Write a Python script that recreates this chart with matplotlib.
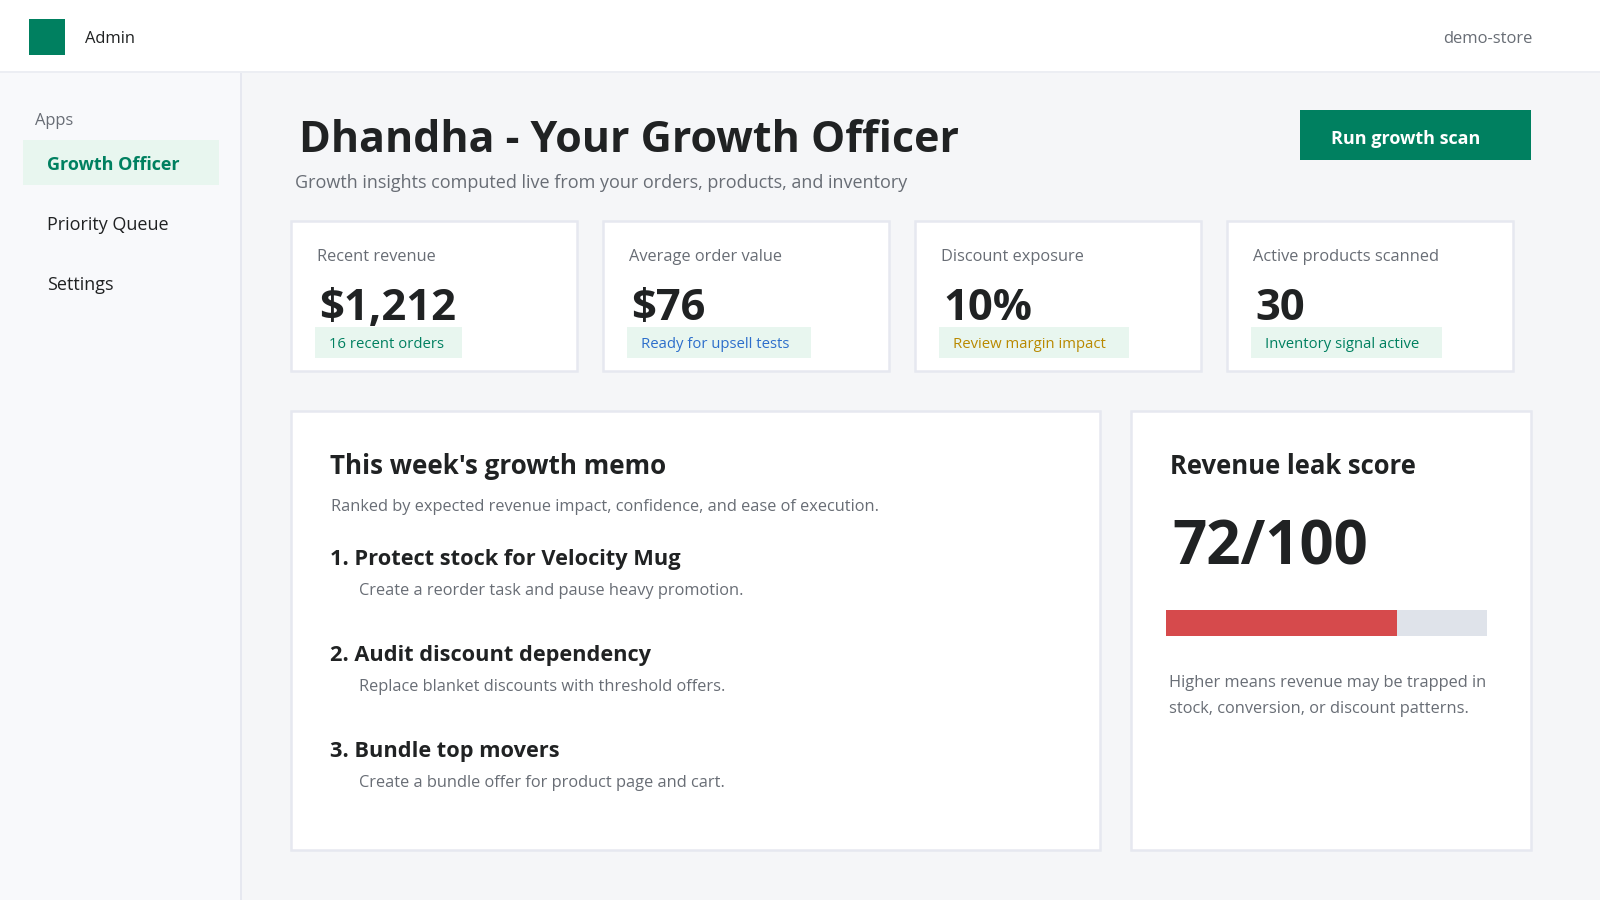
import matplotlib
matplotlib.use("Agg")
import matplotlib.pyplot as plt
from matplotlib.patches import Rectangle

plt.rcParams['font.family'] = ['Open Sans', 'DejaVu Sans']

# --- data ---
nav_items = ["Growth Officer", "Priority Queue", "Settings"]
kpi_labels = ["Recent revenue", "Average order value", "Discount exposure", "Active products scanned"]
kpi_values = ["$1,212", "$76", "10%", "30"]
kpi_notes = ["16 recent orders", "Ready for upsell tests", "Review margin impact", "Inventory signal active"]
kpi_note_colors = ["#008060", "#2c6ecb", "#b98900", "#008060"]
memo_titles = ["1. Protect stock for Velocity Mug", "2. Audit discount dependency", "3. Bundle top movers"]
memo_texts = ["Create a reorder task and pause heavy promotion.",
              "Replace blanket discounts with threshold offers.",
              "Create a bundle offer for product page and cart."]
leak_score = 72
leak_max = 100

GREEN = "#008060"
INK = "#202223"
GREY = "#686d75"
BORDER = "#e6e8f0"
MINT = "#e8f6ef"


def px(size):
    return size * 0.72


def box(ax, x0, y0, x1, y1, face, edge=None, lw=0, z=1):
    ax.add_patch(Rectangle((x0, y0), x1 - x0, y1 - y0, facecolor=face,
                           edgecolor=edge if edge else "none", linewidth=lw, zorder=z))


def label(ax, x, y, s, size, color=INK, weight="normal", ha="left"):
    ax.text(x, y, s, fontsize=px(size), color=color, fontweight=weight, ha=ha, va="center", zorder=5)


fig = plt.figure(figsize=(16, 9), dpi=100, facecolor="#f5f6f8")
ax = fig.add_axes([0, 0, 1, 1])
ax.set_xlim(0, 1600)
ax.set_ylim(900, 0)
ax.axis("off")

# sidebar + header
box(ax, 0, 72, 240, 900, "#f8f9fb")
box(ax, 240, 72, 242, 900, BORDER)
box(ax, 0, 0, 1600, 71, "white")
box(ax, 0, 71, 1600, 73, "#eceef3")
box(ax, 28.5, 18.5, 64.5, 54.5, GREEN)
label(ax, 85, 39, "Admin", 16.5)
label(ax, 1532, 39, "demo-store", 16.5, GREY, ha="right")

label(ax, 35, 121, "Apps", 16.5, GREY)
box(ax, 22.5, 140, 218.5, 184.5, MINT)
for i, name in enumerate(nav_items):
    active = i == 0
    label(ax, 47, 165 + i * 60, name, 18,
          GREEN if active else INK, "bold" if active else "normal")

# page head
label(ax, 299, 141, "Dhandha - Your Growth Officer", 43, INK, "bold")
label(ax, 295, 183, "Growth insights computed live from your orders, products, and inventory", 18, GREY)
box(ax, 1300, 110, 1531, 160, GREEN)
label(ax, 1406, 138.5, "Run growth scan", 18, "white", "bold", ha="center")

# KPI cards
for i in range(len(kpi_labels)):
    x0 = 290.5 + i * 312
    box(ax, x0, 220.5, x0 + 286, 370.5, "white", BORDER, 1.8)
    label(ax, x0 + 26.5, 257, kpi_labels[i], 16.4, GREY)
    label(ax, x0 + 29, 308, kpi_values[i], 43.5, INK, "bold")
    note_w = [147, 184, 190, 191][i]
    box(ax, x0 + 24.5, 327, x0 + 24.5 + note_w, 358, MINT)
    label(ax, x0 + 38.5, 344.5, kpi_notes[i], 14.9, kpi_note_colors[i])

# memo card
box(ax, 290.5, 410.5, 1100, 850, "white", BORDER, 1.8)
label(ax, 330, 467, "This week's growth memo", 26, INK, "bold")
label(ax, 331, 507, "Ranked by expected revenue impact, confidence, and ease of execution.", 16.4, GREY)
for i in range(len(memo_titles)):
    label(ax, 330, 559 + i * 96, memo_titles[i], 21.8, INK, "bold")
    label(ax, 359, 591 + i * 96, memo_texts[i], 16.4, GREY)

# leak card
box(ax, 1130.5, 410.5, 1530.5, 850, "white", BORDER, 1.8)
label(ax, 1170, 467, "Revenue leak score", 25.6, INK, "bold")
label(ax, 1172, 549, f"{leak_score}/{leak_max}", 60, INK, "bold")
ax.barh(623, leak_max * 3.21, height=26, left=1166, color="#dfe3ea", zorder=2)
ax.barh(623, leak_score * 3.21, height=26, left=1166, color="#d64a4c", zorder=3)
label(ax, 1169, 683, "Higher means revenue may be trapped in", 16.4, GREY)
label(ax, 1169, 709, "stock, conversion, or discount patterns.", 16.4, GREY)

fig.savefig("out.png", dpi=100, facecolor=fig.get_facecolor())
